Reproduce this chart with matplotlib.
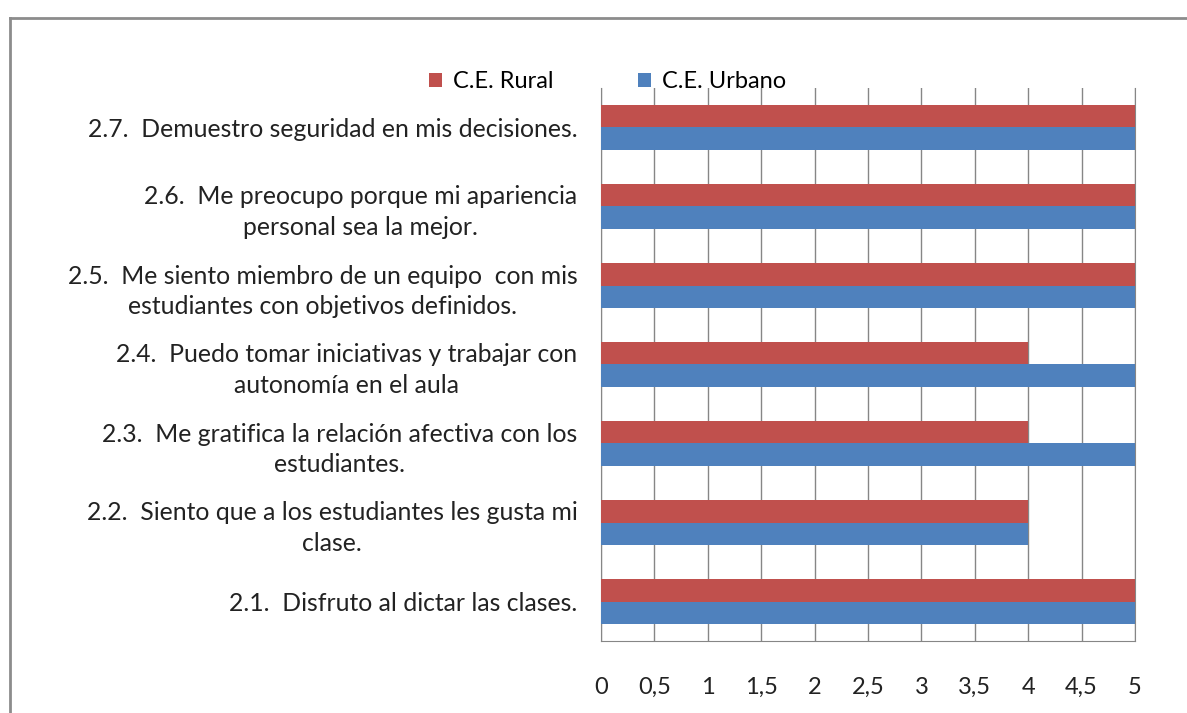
import matplotlib
matplotlib.use("Agg")
import matplotlib.pyplot as plt
from matplotlib.lines import Line2D
import numpy as np

plt.rcParams['font.family'] = ['Lato', 'DejaVu Sans']

preguntas = [
    "2.1.  Disfruto al dictar las clases.",
    "2.2.  Siento que a los estudiantes les gusta mi\nclase.",
    "2.3.  Me gratifica la relación afectiva con los\nestudiantes.",
    "2.4.  Puedo tomar iniciativas y trabajar con\nautonomía en el aula",
    "2.5.  Me siento miembro de un equipo  con mis\nestudiantes con objetivos definidos.",
    "2.6.  Me preocupo porque mi apariencia\npersonal sea la mejor.",
    "2.7.  Demuestro seguridad en mis decisiones.",
]
rural = [5, 4, 4, 4, 5, 5, 5]
urbano = [5, 4, 5, 5, 5, 5, 5]
ticks_x = [0, 0.5, 1, 1.5, 2, 2.5, 3, 3.5, 4, 4.5, 5]
etiquetas_x = ["0", "0,5", "1", "1,5", "2", "2,5", "3", "3,5", "4", "4,5", "5"]

rojo = "#C0504D"
azul = "#4F81BD"
gris = "#868686"

fig = plt.figure(figsize=(11.87, 7.13), dpi=100)
ax = fig.add_axes([601 / 1187, 1 - 641 / 713, 534 / 1187, (641 - 88) / 713])

y = np.arange(len(preguntas))
alto = 0.29
ax.barh(y + alto / 2, rural, height=alto, color=rojo, label="C.E. Rural", zorder=3)
ax.barh(y - alto / 2, urbano, height=alto, color=azul, label="C.E. Urbano", zorder=3)

ax.set_xlim(0, 5)
ax.set_ylim(-0.5, len(preguntas) - 0.5)
ax.set_xticks(ticks_x)
ax.set_xticklabels(etiquetas_x, fontsize=17)
ax.set_yticks(y)
ax.set_yticklabels(preguntas, fontsize=17.8, multialignment="center", linespacing=1.4)
for t in ax.get_yticklabels():
    t.set_y(t.get_position()[1])
ax.tick_params(axis="x", length=0, pad=26, colors="#222222")
ax.tick_params(axis="y", length=0, pad=17, colors="#222222")
ax.grid(axis="x", color=gris, linewidth=1, zorder=0)
for lado in ["left", "bottom", "right"]:
    ax.spines[lado].set_color(gris)
ax.spines["top"].set_visible(False)

fig.legend(loc="center left", bbox_to_anchor=(429 / 1187, 1 - 82 / 713), ncol=2,
           frameon=False, fontsize=17, handlelength=0.55, handleheight=0.55,
           handletextpad=0.45, columnspacing=3.6, borderaxespad=0, borderpad=0)

# marco gris del grafico
fig.add_artist(Line2D([10 / 1187, 10 / 1187], [0, 1 - 18 / 713], color="#8c8c8c", lw=2))
fig.add_artist(Line2D([10 / 1187, 1], [1 - 18 / 713, 1 - 18 / 713], color="#8c8c8c", lw=2))

fig.savefig("out.png", dpi=100)
